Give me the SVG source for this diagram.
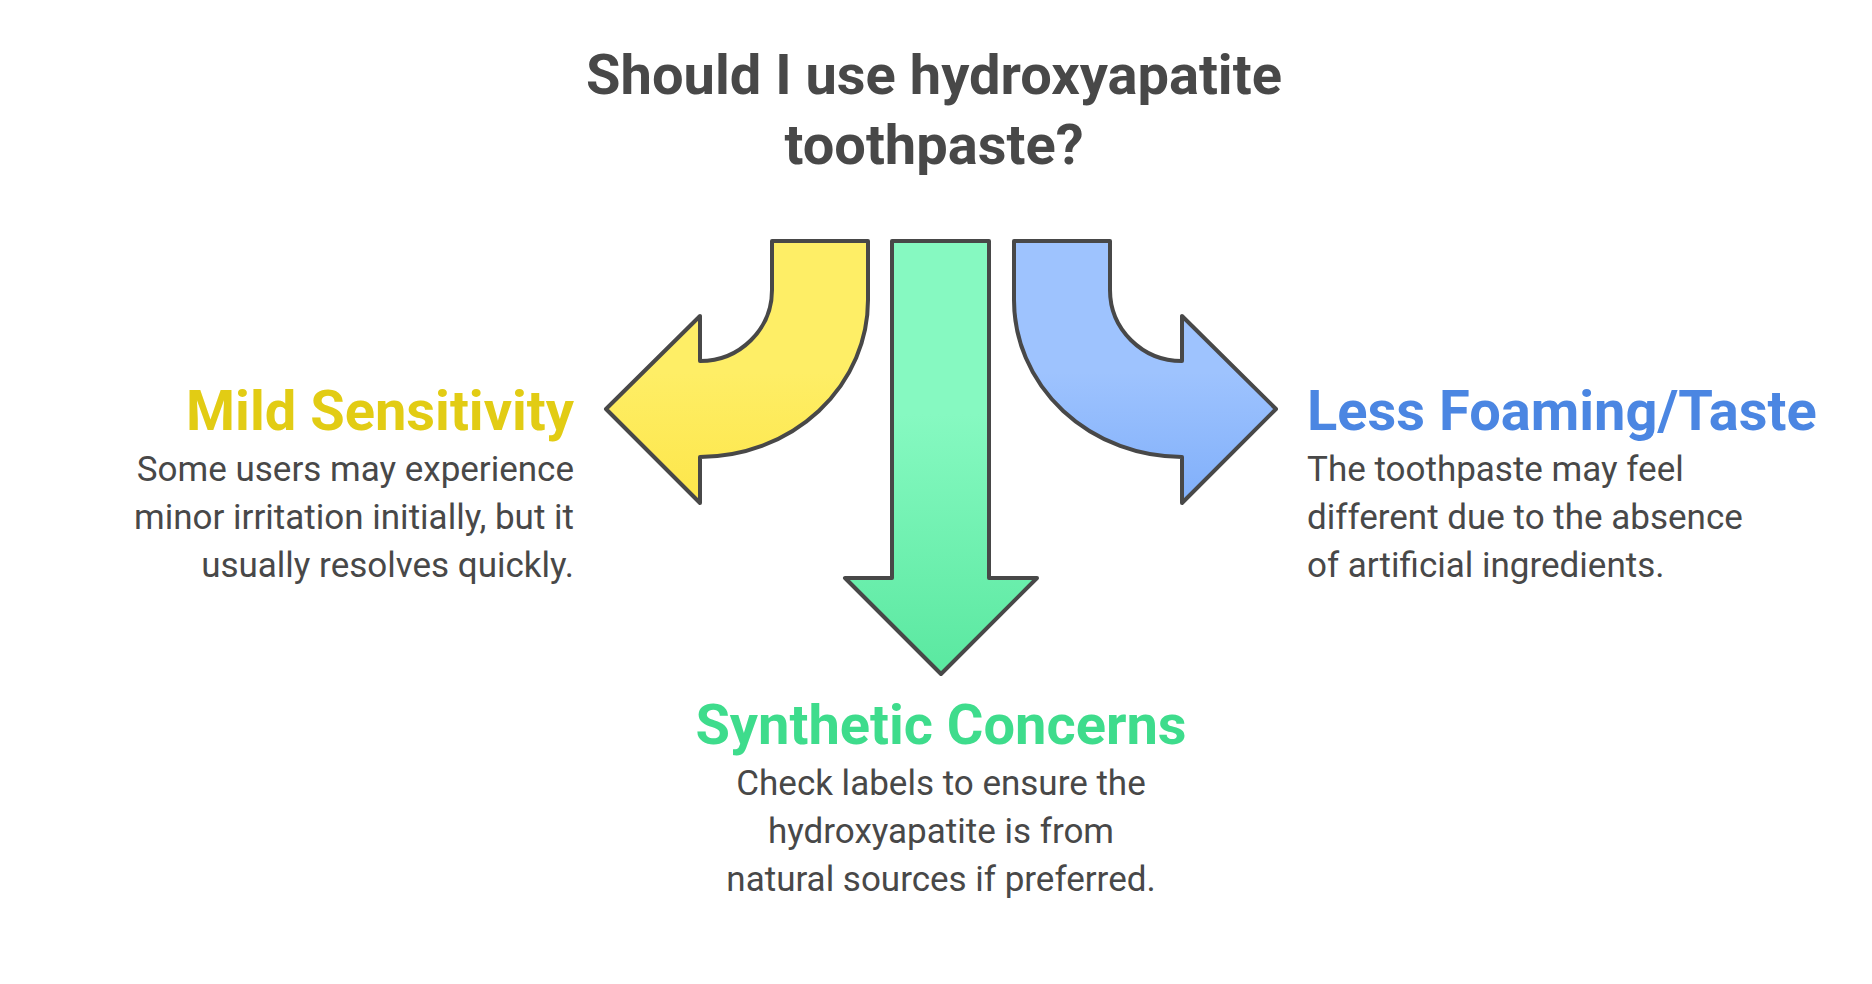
<svg xmlns="http://www.w3.org/2000/svg" width="1872" height="984" viewBox="0 0 1872 984">
<style>
.t{font-family:Roboto,"Liberation Sans",sans-serif;font-weight:700;fill:#484848;font-size:56px}
.h{font-family:Roboto,"Liberation Sans",sans-serif;font-weight:700;font-size:56px}
.b{font-family:Roboto,"Liberation Sans",sans-serif;font-size:35px;fill:#484848}
.a{stroke:#484848;stroke-width:4;stroke-linejoin:round}
</style>
<defs>
<linearGradient id="gy" x1="0" y1="0" x2="0" y2="1"><stop offset="0.5" stop-color="#FEEE66"/><stop offset="1" stop-color="#FDE64A"/></linearGradient>
<linearGradient id="gg" x1="0" y1="0" x2="0" y2="1"><stop offset="0.4" stop-color="#86F9C1"/><stop offset="1" stop-color="#5AE8A0"/></linearGradient>
<linearGradient id="gb" x1="0" y1="0" x2="0" y2="1"><stop offset="0.5" stop-color="#9EC3FE"/><stop offset="1" stop-color="#80AFFA"/></linearGradient>
</defs>
<rect width="1872" height="984" fill="#fff"/>
<g id="title"><text class="t" x="934" y="94" text-anchor="middle">Should I use hydroxyapatite</text><text class="t" x="934" y="164" text-anchor="middle">toothpaste?</text></g>
<g id="connectors">
<path class="a" fill="url(#gy)" d="M772 241 H868 V300 A168 157 0 0 1 700 457 V503 L606 409 L700 316 V361 A72 71 0 0 0 772 290 Z"/>
<path class="a" fill="url(#gg)" d="M892 241 H989 V578 H1037 L941 674 L845 578 H892 Z"/>
<path class="a" fill="url(#gb)" d="M1110 241 H1014 V300 A168 157 0 0 0 1182 457 V503 L1276 409 L1182 316 V361 A72 71 0 0 1 1110 290 Z"/>
</g>
<g id="mild"><text class="h" fill="#E2CC14" x="574" y="430" text-anchor="end">Mild Sensitivity</text>
<text class="b" text-anchor="end"><tspan x="574" y="481">Some users may experience</tspan><tspan x="574" y="529">minor irritation initially, but it</tspan><tspan x="574" y="577">usually resolves quickly.</tspan></text></g>
<g id="less"><text class="h" fill="#4B86E2" x="1307" y="430">Less Foaming/Taste</text>
<text class="b"><tspan x="1307" y="481">The toothpaste may feel</tspan><tspan x="1307" y="529">different due to the absence</tspan><tspan x="1307" y="577">of artificial ingredients.</tspan></text></g>
<g id="synthetic"><text class="h" fill="#3EDC8C" x="941" y="744" text-anchor="middle">Synthetic Concerns</text>
<text class="b" text-anchor="middle"><tspan x="941" y="795">Check labels to ensure the</tspan><tspan x="941" y="843">hydroxyapatite is from</tspan><tspan x="941" y="891">natural sources if preferred.</tspan></text></g>
</svg>
